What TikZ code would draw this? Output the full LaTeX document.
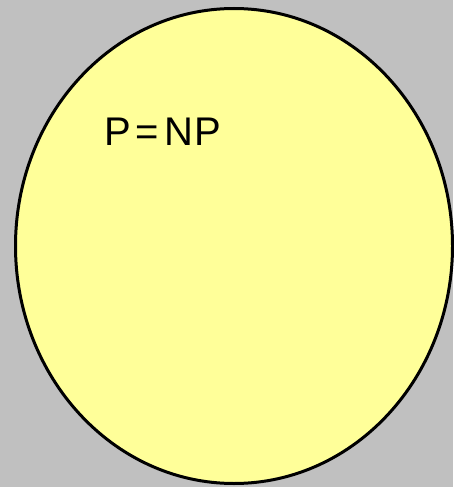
\documentclass[tikz,border=0pt]{standalone}
\usepackage{fontspec}
\setmainfont{Liberation Sans}
\usetikzlibrary{shapes.geometric}
\definecolor{bggray}{HTML}{C0C0C0}
\definecolor{setyellow}{HTML}{FFFF99}
\tikzset{setshape/.style={fill=setyellow,draw=black,line width=3pt},
  label text/.style={font=\fontsize{40}{40}\selectfont,inner sep=0pt,anchor=base west}}
\begin{document}
\begin{tikzpicture}[x=1pt,y=-1pt]
\fill[bggray] (0,0) rectangle (453,487);
\useasboundingbox (0,0) rectangle (453,487);
\node[setshape,ellipse,minimum width=437pt,minimum height=475pt,inner sep=0pt] (P) at (234,246) {};
\node[label text] (t) at (104,145) {P\hspace{5pt}=\hspace{5pt}N\hspace{1pt}P};
\end{tikzpicture}
\end{document}
